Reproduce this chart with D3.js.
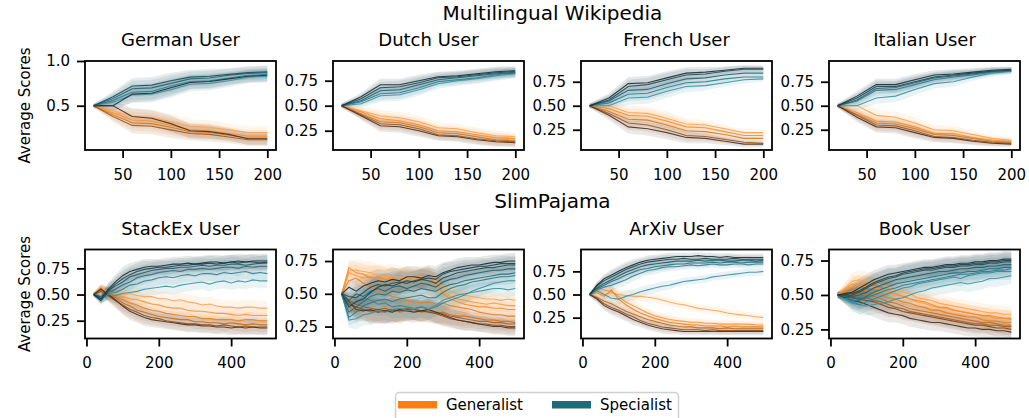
<!DOCTYPE html>
<html>
<head>
<meta charset="utf-8">
<script src="https://cdn.jsdelivr.net/npm/d3@7"></script>
<style>
  body { margin: 0; background: #fff; }
  text { font-family: "DejaVu Sans", sans-serif; fill: #000; }
</style>
</head>
<body>
<script>
// Шаги по оси абсцисс
const wikiSteps = [20, 40, 60, 80, 100, 120, 140, 160, 180, 200];
const slimSteps = [20, 40, 60, 80, 100, 120, 140, 160, 180, 200, 220, 240, 260,
                   280, 300, 320, 340, 360, 380, 400, 420, 440, 460, 480, 500];

// Деления осей
const wikiXTicks = [50, 100, 150, 200];
const slimXTicks = [0, 200, 400];
const germanYTicks = [0.5, 1.0];
const otherYTicks = [0.25, 0.5, 0.75];

// Заголовки
const groupTitles = ['Multilingual Wikipedia', 'SlimPajama'];
const wikiTitles = ['German User', 'Dutch User', 'French User', 'Italian User'];
const slimTitles = ['StackEx User', 'Codes User', 'ArXiv User', 'Book User'];
const seriesNames = ['Generalist', 'Specialist'];

// Пределы осей ординат (как на рисунке)
const yLimits = [[0.005, 1.0], [0.057, 0.947], [0.039, 0.966], [0.039, 0.966],
                 [0.08, 0.93], [0.159, 0.838], [0.025, 0.986], [0.184, 0.83]];

// ---- Multilingual Wikipedia (линии от светлой к тёмной) ----
const germanGeneralist = [
  [.50, .44, .38, .37, .32, .27, .26, .23, .20, .20],
  [.50, .42, .34, .33, .28, .23, .22, .19, .16, .16],
  [.50, .40, .31, .30, .26, .21, .20, .17, .14, .14],
  [.50, .38, .28, .27, .23, .19, .18, .15, .12, .12],
  [.50, .50, .38, .36, .30, .22, .21, .18, .13, .13]
];
const germanSpecialist = [
  [.50, .54, .62, .63, .68, .74, .75, .78, .82, .83],
  [.50, .56, .65, .66, .72, .77, .78, .81, .84, .85],
  [.50, .58, .69, .70, .75, .80, .81, .84, .86, .87],
  [.50, .60, .72, .73, .78, .82, .83, .85, .87, .88],
  [.50, .50, .63, .64, .70, .76, .77, .80, .83, .84]
];
const germanBand = [.02, .06, .09, .09, .09, .08, .08, .07, .07, .07];

const dutchGeneralist = [
  [.50, .45, .40, .38, .34, .28, .27, .23, .20, .19],
  [.50, .44, .37, .35, .31, .25, .24, .21, .18, .17],
  [.50, .42, .34, .33, .29, .23, .22, .19, .16, .15],
  [.50, .41, .32, .31, .27, .21, .20, .17, .15, .14],
  [.50, .40, .30, .29, .25, .20, .19, .16, .14, .13]
];
const dutchSpecialist = [
  [.50, .52, .60, .61, .66, .72, .75, .77, .80, .82],
  [.50, .54, .62, .63, .68, .74, .76, .78, .81, .83],
  [.50, .55, .65, .66, .71, .76, .78, .80, .82, .83],
  [.50, .57, .68, .69, .73, .78, .79, .81, .83, .84],
  [.50, .59, .71, .71, .75, .79, .80, .82, .84, .85]
];
const dutchBand = [.02, .04, .06, .06, .06, .05, .05, .05, .05, .045];

const frenchGeneralist = [
  [.50, .50, .43, .42, .37, .31, .30, .26, .22, .22],
  [.50, .47, .40, .39, .34, .28, .27, .23, .19, .19],
  [.50, .44, .36, .35, .30, .24, .23, .20, .16, .16],
  [.50, .42, .32, .30, .25, .19, .18, .15, .12, .11],
  [.50, .40, .28, .26, .22, .17, .16, .13, .10, .10]
];
const frenchSpecialist = [
  [.50, .50, .58, .59, .65, .70, .71, .74, .77, .78],
  [.50, .53, .62, .63, .69, .74, .75, .78, .80, .80],
  [.50, .55, .66, .67, .73, .78, .79, .82, .84, .84],
  [.50, .56, .70, .72, .77, .82, .83, .86, .88, .88],
  [.50, .58, .73, .74, .79, .84, .85, .87, .89, .89]
];
const frenchBand = [.02, .05, .07, .07, .07, .06, .05, .04, .035, .03];

const italianGeneralist = [
  [.50, .50, .40, .38, .32, .25, .24, .20, .16, .14],
  [.50, .43, .34, .33, .28, .21, .21, .17, .14, .13],
  [.50, .41, .32, .31, .26, .20, .19, .16, .13, .12],
  [.50, .40, .30, .29, .24, .18, .17, .14, .12, .11],
  [.50, .38, .28, .27, .22, .17, .16, .13, .11, .10]
];
const italianSpecialist = [
  [.50, .50, .58, .60, .67, .73, .75, .80, .84, .86],
  [.50, .55, .66, .67, .72, .77, .80, .82, .85, .86],
  [.50, .56, .68, .69, .74, .79, .81, .83, .86, .87],
  [.50, .58, .70, .70, .75, .80, .82, .84, .86, .87],
  [.50, .60, .72, .72, .77, .82, .83, .85, .87, .88]
];
const italianBand = [.02, .05, .06, .06, .06, .05, .05, .04, .035, .03];

// ---- SlimPajama ----
const stackGeneralist = [
  [.50, .56, .52, .51, .50, .51, .49, .48, .48, .46, .46, .44, .45, .43, .42, .40, .41, .39, .38, .38, .37, .38, .38, .37, .37],
  [.50, .55, .51, .50, .48, .46, .45, .43, .41, .40, .38, .37, .37, .35, .34, .34, .33, .32, .32, .31, .30, .31, .30, .30, .30],
  [.50, .54, .52, .48, .45, .42, .40, .37, .35, .34, .32, .31, .30, .29, .29, .27, .27, .26, .26, .26, .25, .26, .26, .25, .25],
  [.50, .56, .50, .47, .42, .39, .35, .33, .31, .29, .28, .27, .26, .26, .24, .24, .23, .23, .22, .23, .22, .21, .22, .21, .21],
  [.50, .53, .49, .44, .40, .36, .33, .30, .28, .27, .25, .24, .23, .22, .22, .21, .21, .20, .21, .20, .19, .20, .19, .19, .19],
  [.50, .55, .50, .45, .39, .34, .31, .28, .26, .25, .24, .23, .22, .21, .21, .20, .20, .19, .19, .18, .19, .18, .19, .18, .18]
];
const stackSpecialist = [
  [.50, .47, .50, .49, .51, .52, .53, .55, .56, .57, .58, .57, .59, .60, .61, .62, .60, .62, .63, .61, .63, .62, .64, .63, .63],
  [.50, .46, .51, .52, .55, .59, .60, .63, .64, .66, .67, .66, .68, .69, .68, .70, .70, .69, .71, .70, .71, .72, .70, .71, .70],
  [.50, .45, .52, .55, .59, .62, .66, .68, .69, .71, .72, .73, .72, .74, .74, .75, .74, .75, .76, .76, .75, .77, .76, .77, .77],
  [.50, .48, .54, .58, .62, .67, .69, .71, .73, .74, .75, .75, .76, .76, .77, .78, .77, .78, .78, .79, .79, .78, .79, .80, .80],
  [.50, .44, .53, .60, .65, .69, .72, .74, .75, .76, .76, .77, .78, .78, .79, .79, .80, .79, .80, .81, .80, .81, .81, .80, .81],
  [.50, .46, .55, .62, .68, .72, .74, .76, .77, .77, .78, .79, .79, .80, .79, .80, .81, .81, .80, .81, .82, .81, .82, .82, .82]
];
const stackBand = [.02, .04, .06, .07, .08, .08, .08, .08, .07, .07, .07, .07, .07, .07, .07, .07, .07, .07, .07, .07, .07, .07, .07, .07, .07];

const codesGeneralist = [
  [.50, .68, .68, .67, .66, .64, .63, .64, .62, .63, .62, .63, .62, .60, .55, .52, .50, .49, .48, .47, .46, .46, .45, .46, .45],
  [.50, .66, .64, .62, .63, .62, .61, .62, .60, .61, .61, .62, .60, .57, .52, .48, .46, .45, .44, .43, .42, .43, .42, .41, .41],
  [.50, .70, .66, .65, .62, .63, .61, .60, .61, .62, .60, .61, .63, .58, .50, .46, .44, .42, .41, .40, .40, .39, .39, .38, .38],
  [.50, .60, .62, .58, .55, .52, .50, .48, .47, .45, .44, .43, .44, .42, .43, .41, .40, .39, .38, .36, .35, .34, .34, .33, .33],
  [.50, .40, .36, .38, .36, .37, .36, .38, .36, .37, .38, .36, .37, .35, .36, .34, .33, .33, .32, .31, .30, .30, .29, .29, .28],
  [.50, .45, .42, .40, .39, .38, .39, .37, .38, .39, .38, .37, .38, .36, .35, .33, .32, .31, .30, .29, .29, .28, .28, .27, .27],
  [.50, .42, .40, .38, .37, .38, .37, .38, .37, .38, .38, .37, .36, .35, .33, .31, .30, .29, .28, .27, .27, .26, .26, .25, .25],
  [.50, .44, .38, .37, .38, .36, .37, .36, .38, .37, .36, .37, .38, .36, .34, .32, .30, .29, .28, .27, .26, .25, .25, .24, .24]
];
const codesSpecialist = [
  [.50, .30, .31, .34, .35, .37, .36, .38, .39, .37, .38, .40, .39, .41, .45, .47, .49, .50, .51, .52, .53, .54, .54, .53, .54],
  [.50, .42, .44, .47, .45, .42, .43, .40, .41, .40, .39, .40, .38, .40, .43, .45, .47, .49, .52, .54, .56, .58, .59, .60, .60],
  [.50, .32, .36, .41, .43, .45, .46, .44, .46, .47, .48, .49, .47, .47, .51, .54, .56, .57, .59, .60, .61, .62, .63, .63, .64],
  [.50, .36, .40, .44, .48, .50, .49, .52, .51, .53, .52, .54, .53, .52, .55, .57, .58, .60, .61, .62, .63, .64, .65, .65, .66],
  [.50, .45, .50, .48, .52, .54, .52, .55, .56, .54, .56, .58, .57, .55, .59, .61, .62, .64, .65, .66, .67, .68, .68, .69, .69],
  [.50, .48, .47, .51, .55, .57, .56, .58, .59, .58, .60, .61, .60, .58, .62, .64, .66, .67, .68, .69, .70, .70, .71, .72, .72],
  [.50, .40, .44, .46, .51, .55, .57, .56, .58, .60, .59, .61, .62, .61, .65, .67, .68, .69, .70, .71, .71, .72, .73, .73, .73],
  [.50, .55, .52, .56, .58, .60, .59, .61, .60, .63, .63, .62, .64, .63, .66, .68, .70, .71, .72, .72, .73, .74, .74, .75, .75]
];
const codesBand = [.02, .06, .08, .08, .09, .09, .09, .09, .09, .08, .08, .08, .08, .08, .08, .07, .07, .07, .06, .06, .06, .06, .06, .06, .06];

const arxivGeneralist = [
  [.50, .56, .50, .52, .50, .49, .48, .48, .47, .46, .44, .42, .40, .39, .37, .35, .34, .33, .32, .30, .29, .28, .27, .26, .25],
  [.50, .58, .55, .53, .48, .42, .38, .34, .30, .27, .25, .23, .22, .21, .20, .20, .19, .19, .18, .18, .18, .18, .18, .17, .17],
  [.50, .52, .48, .55, .45, .39, .34, .30, .27, .24, .22, .20, .19, .18, .17, .17, .16, .16, .16, .15, .16, .15, .15, .15, .15],
  [.50, .47, .43, .40, .36, .32, .29, .26, .23, .21, .19, .17, .16, .15, .15, .14, .14, .14, .13, .14, .13, .13, .13, .13, .13],
  [.50, .46, .40, .36, .33, .29, .26, .22, .19, .17, .15, .14, .13, .12, .12, .12, .11, .12, .11, .11, .11, .11, .11, .11, .11],
  [.50, .45, .38, .34, .31, .27, .23, .20, .17, .15, .13, .12, .11, .10, .10, .10, .10, .10, .10, .10, .10, .10, .10, .10, .10]
];
const arxivSpecialist = [
  [.50, .54, .50, .46, .45, .48, .50, .53, .55, .57, .59, .60, .62, .64, .65, .66, .67, .69, .70, .71, .72, .73, .74, .74, .75],
  [.50, .55, .58, .60, .63, .66, .70, .73, .76, .77, .79, .80, .80, .81, .82, .81, .82, .83, .82, .82, .83, .83, .82, .83, .83],
  [.50, .56, .60, .64, .67, .71, .74, .77, .78, .80, .81, .82, .83, .83, .84, .84, .84, .85, .84, .85, .85, .84, .85, .85, .85],
  [.50, .57, .62, .66, .70, .74, .77, .80, .82, .83, .84, .85, .86, .86, .86, .87, .86, .87, .87, .86, .86, .87, .87, .86, .87],
  [.50, .59, .65, .69, .73, .77, .80, .83, .85, .86, .87, .88, .88, .89, .88, .88, .89, .88, .88, .88, .89, .88, .88, .88, .88],
  [.50, .60, .67, .71, .75, .79, .82, .85, .87, .88, .89, .90, .91, .91, .91, .92, .91, .91, .90, .91, .90, .90, .90, .90, .90]
];
const arxivBand = [.02, .04, .05, .06, .06, .06, .06, .05, .05, .05, .05, .05, .04, .04, .04, .04, .04, .04, .04, .04, .04, .04, .04, .04, .04];

const bookGeneralist = [
  [.50, .55, .60, .61, .60, .59, .57, .56, .54, .52, .51, .48, .47, .46, .44, .43, .42, .41, .40, .39, .38, .37, .37, .36, .36],
  [.50, .54, .58, .57, .56, .55, .54, .52, .50, .49, .47, .45, .44, .42, .41, .40, .39, .38, .37, .36, .35, .34, .33, .33, .32],
  [.50, .53, .56, .58, .57, .56, .54, .53, .51, .49, .47, .46, .45, .43, .41, .41, .39, .38, .37, .36, .35, .35, .34, .33, .33],
  [.50, .52, .53, .54, .53, .52, .50, .48, .47, .45, .44, .42, .41, .39, .39, .37, .36, .35, .34, .34, .32, .31, .31, .30, .30],
  [.50, .51, .50, .51, .50, .49, .47, .45, .44, .42, .40, .39, .38, .37, .36, .35, .34, .33, .32, .31, .30, .30, .29, .28, .28],
  [.50, .50, .49, .48, .48, .46, .45, .43, .41, .40, .38, .37, .36, .35, .34, .33, .32, .31, .30, .29, .29, .28, .28, .27, .27],
  [.50, .49, .48, .47, .46, .45, .43, .41, .40, .38, .37, .36, .35, .34, .33, .32, .31, .30, .29, .28, .28, .27, .26, .26, .25],
  [.50, .48, .46, .45, .43, .41, .39, .37, .36, .35, .33, .32, .31, .30, .30, .29, .28, .27, .26, .26, .25, .25, .24, .24, .23]
];
const bookSpecialist = [
  [.50, .47, .44, .43, .42, .43, .44, .45, .47, .48, .50, .52, .53, .55, .56, .57, .58, .59, .58, .59, .60, .62, .62, .63, .64],
  [.50, .48, .45, .43, .45, .47, .49, .51, .53, .55, .56, .58, .59, .60, .61, .62, .63, .62, .64, .65, .66, .66, .67, .67, .67],
  [.50, .48, .46, .46, .48, .50, .52, .54, .55, .57, .58, .59, .60, .61, .62, .63, .64, .65, .65, .66, .67, .67, .68, .68, .69],
  [.50, .49, .48, .47, .49, .52, .54, .56, .58, .59, .60, .61, .62, .63, .64, .65, .66, .66, .67, .67, .68, .69, .69, .70, .70],
  [.50, .50, .49, .50, .52, .55, .57, .59, .61, .62, .63, .64, .65, .66, .67, .67, .68, .69, .69, .70, .70, .71, .71, .72, .72],
  [.50, .48, .50, .52, .55, .58, .60, .62, .63, .65, .66, .67, .68, .68, .69, .70, .70, .71, .71, .72, .72, .73, .73, .74, .74],
  [.50, .50, .51, .53, .56, .59, .61, .63, .64, .66, .67, .68, .69, .69, .70, .71, .71, .72, .72, .73, .73, .74, .74, .75, .75],
  [.50, .51, .52, .55, .58, .61, .63, .65, .66, .67, .68, .69, .70, .70, .71, .72, .72, .73, .73, .74, .74, .75, .75, .76, .76]
];
const bookBand = [.02, .04, .06, .07, .07, .07, .07, .07, .06, .06, .06, .06, .06, .06, .06, .06, .06, .06, .06, .06, .06, .06, .06, .06, .06];

// Размеры
const width = 1029;
const height = 418;
const panelW = 191;
const panelH = 89;
const panelLeft = [85, 333, 581, 829];
const rowTop = [61, 249.5];

// Цвета: от светлого к тёмному
const orangeRamp = d3.interpolateRgbBasis(['#ffa24a', '#f28018', '#4a3122']);
const tealRamp = d3.interpolateRgbBasis(['#3a93a8', '#1f6a79', '#1b3036']);
const legendColors = ['#ff7f0e', '#1f6b78'];

const svg = d3.select('body').append('svg')
  .attr('width', width)
  .attr('height', height);

// Список панелей
const panels = [
  {title: wikiTitles[0], steps: wikiSteps, gen: germanGeneralist, spec: germanSpecialist, band: germanBand},
  {title: wikiTitles[1], steps: wikiSteps, gen: dutchGeneralist, spec: dutchSpecialist, band: dutchBand},
  {title: wikiTitles[2], steps: wikiSteps, gen: frenchGeneralist, spec: frenchSpecialist, band: frenchBand},
  {title: wikiTitles[3], steps: wikiSteps, gen: italianGeneralist, spec: italianSpecialist, band: italianBand},
  {title: slimTitles[0], steps: slimSteps, gen: stackGeneralist, spec: stackSpecialist, band: stackBand},
  {title: slimTitles[1], steps: slimSteps, gen: codesGeneralist, spec: codesSpecialist, band: codesBand},
  {title: slimTitles[2], steps: slimSteps, gen: arxivGeneralist, spec: arxivSpecialist, band: arxivBand},
  {title: slimTitles[3], steps: slimSteps, gen: bookGeneralist, spec: bookSpecialist, band: bookBand}
];

panels.forEach((p, k) => {
  const row = Math.floor(k / 4);
  const col = k % 4;
  const left = panelLeft[col];
  const top = rowTop[row];
  const isWiki = row === 0;

  const x = d3.scaleLinear()
    .domain(isWiki ? [11, 209] : [-4, 524])
    .range([0, panelW]);
  const y = d3.scaleLinear().domain(yLimits[k]).range([panelH, 0]);

  const g = svg.append('g').attr('transform', `translate(${left},${top})`);

  const clipId = 'clip' + k;
  g.append('clipPath').attr('id', clipId)
    .append('rect').attr('width', panelW).attr('height', panelH);

  const plot = g.append('g').attr('clip-path', `url(#${clipId})`);

  const area = d3.area()
    .x((d, i) => x(p.steps[i]))
    .y0((d, i) => y(d - p.band[i]))
    .y1((d, i) => y(d + p.band[i]));
  const line = d3.line()
    .x((d, i) => x(p.steps[i]))
    .y(d => y(d));

  const groups = [
    {series: p.gen, ramp: orangeRamp},
    {series: p.spec, ramp: tealRamp}
  ];

  // Сначала все полосы, затем все линии
  groups.forEach(gr => {
    gr.series.forEach((s, i) => {
      plot.append('path')
        .attr('d', area(s))
        .attr('fill', gr.ramp(i / (gr.series.length - 1)))
        .attr('fill-opacity', 0.11)
        .attr('stroke', 'none');
    });
  });
  groups.forEach(gr => {
    gr.series.forEach((s, i) => {
      plot.append('path')
        .attr('d', line(s))
        .attr('fill', 'none')
        .attr('stroke', gr.ramp(i / (gr.series.length - 1)))
        .attr('stroke-width', 1.1)
        .attr('stroke-opacity', 0.9);
    });
  });

  // Оси
  const yTicks = k === 0 ? germanYTicks : otherYTicks;
  const yFmt = k === 0 ? d3.format('.1f') : d3.format('.2f');

  const xAxis = g.append('g')
    .attr('transform', `translate(0,${panelH})`)
    .call(d3.axisBottom(x)
      .tickValues(isWiki ? wikiXTicks : slimXTicks)
      .tickSize(8).tickPadding(11)
      .tickFormat(d3.format('d')));
  const yAxis = g.append('g')
    .call(d3.axisLeft(y)
      .tickValues(yTicks)
      .tickSize(8).tickPadding(7)
      .tickFormat(yFmt));

  [xAxis, yAxis].forEach(ax => {
    ax.select('.domain').remove();
    ax.selectAll('line').attr('stroke', '#000').attr('stroke-width', 1.8);
    ax.selectAll('text')
      .style('font-family', '"DejaVu Sans", sans-serif')
      .style('font-size', '15px')
      .attr('fill', '#000');
  });

  // Рамка
  g.append('rect')
    .attr('width', panelW).attr('height', panelH)
    .attr('fill', 'none').attr('stroke', '#000').attr('stroke-width', 1.8);

  // Заголовок панели
  g.append('text')
    .attr('x', panelW / 2).attr('y', -15)
    .attr('text-anchor', 'middle')
    .style('font-size', '18px')
    .text(p.title);

  // Подпись оси ординат
  if (col === 0) {
    svg.append('text')
      .attr('transform', `translate(25,${top + panelH / 2}) rotate(-90)`)
      .attr('text-anchor', 'middle')
      .attr('dominant-baseline', 'central')
      .style('font-size', '15px')
      .text('Average Scores');
  }
});

// Заголовки групп
const centerX = (panelLeft[0] + panelLeft[3] + panelW) / 2;
[20, 208].forEach((yy, i) => {
  svg.append('text')
    .attr('x', centerX).attr('y', yy)
    .attr('text-anchor', 'middle')
    .style('font-size', '20px')
    .text(groupTitles[i]);
});

// Легенда
const legend = svg.append('g');
legend.append('rect')
  .attr('x', 395.5).attr('y', 392.5)
  .attr('width', 283).attr('height', 40)
  .attr('rx', 4)
  .attr('fill', '#fff')
  .attr('stroke', '#d0d0d0')
  .attr('stroke-width', 1.5);
const legendX = [398, 552];
seriesNames.forEach((name, i) => {
  legend.append('rect')
    .attr('x', legendX[i]).attr('y', 401)
    .attr('width', 39).attr('height', 7.5)
    .attr('fill', legendColors[i]);
  legend.append('text')
    .attr('x', legendX[i] + 48).attr('y', 405)
    .attr('dominant-baseline', 'central')
    .style('font-size', '15px')
    .text(name);
});
</script>
</body>
</html>
